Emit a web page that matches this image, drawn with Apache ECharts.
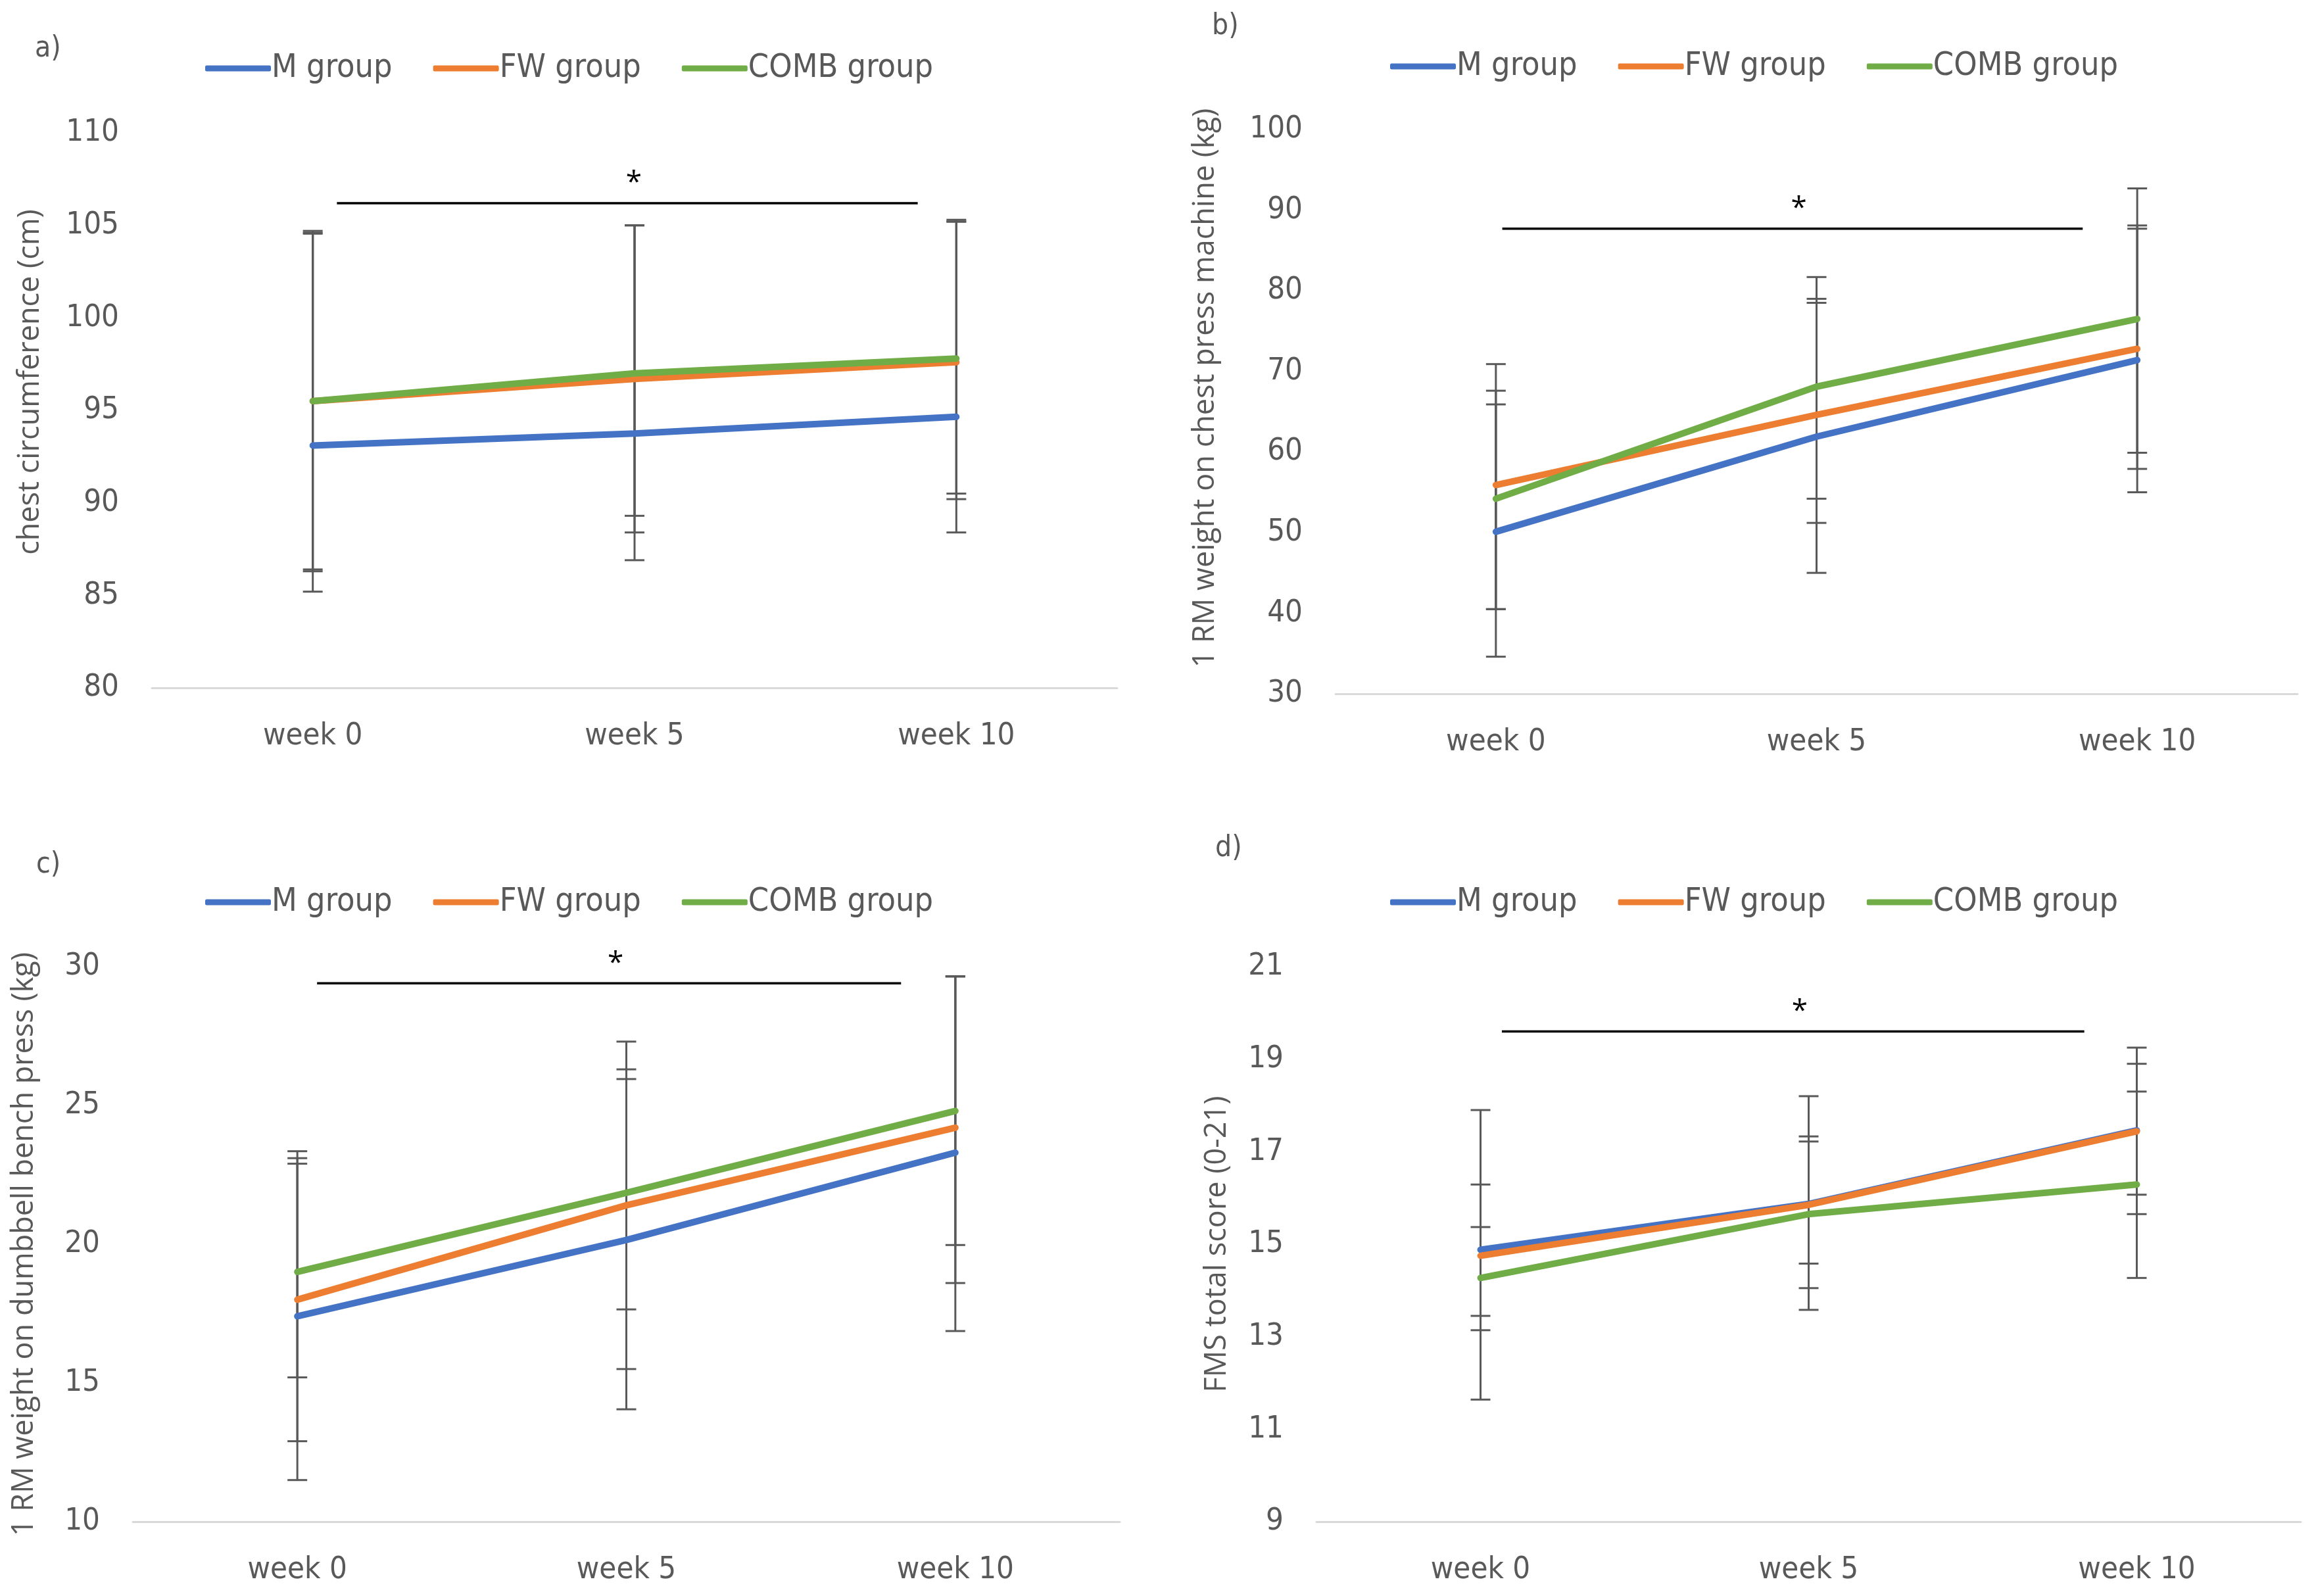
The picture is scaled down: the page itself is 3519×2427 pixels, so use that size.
<!DOCTYPE html>
<html>
<head>
<meta charset="utf-8">
<script src="https://cdn.jsdelivr.net/npm/echarts@6/dist/echarts.min.js"></script>
<style>
html,body{margin:0;padding:0;background:#fff;}
#chart{width:3519px;height:2427px;}
</style>
</head>
<body>
<div id="chart"></div>
<script>
// ---------- data ----------
const categories = ['week 0', 'week 5', 'week 10'];
const groups = ['M group', 'FW group', 'COMB group'];
const panelLabels = ['a)', 'b)', 'c)', 'd)'];
const yNames = [
  'chest circumference (cm)',
  '1 RM weight on chest press machine (kg)',
  '1 RM weight on dumbbell bench press (kg)',
  'FMS total score (0-21)'
];

// panel a: chest circumference
const chestMeanM = [93.1, 93.75, 94.65];
const chestMeanFW = [95.5, 96.7, 97.6];
const chestMeanCOMB = [95.5, 97.0, 97.8];
const chestLowM = [85.2, 86.9, 88.4];
const chestHighM = [104.6, 105.0, 105.2];
const chestLowFW = [86.3, 88.4, 90.2];
const chestHighFW = [104.55, 105.0, 105.2];
const chestLowCOMB = [86.4, 89.3, 90.5];
const chestHighCOMB = [104.7, 105.0, 105.3];
const chestTicks = [80, 85, 90, 95, 100, 105, 110];

// panel b: chest press machine 1RM
const machineMeanM = [50.1, 61.9, 71.4];
const machineMeanFW = [55.9, 64.6, 72.8];
const machineMeanCOMB = [54.2, 68.1, 76.5];
const machineLowM = [34.6, 45.0, 55.0];
const machineHighM = [65.9, 79.0, 88.1];
const machineLowFW = [40.5, 51.2, 57.9];
const machineHighFW = [70.9, 78.5, 87.7];
const machineLowCOMB = [40.5, 54.2, 59.9];
const machineHighCOMB = [67.6, 81.7, 92.7];
const machineTicks = [30, 40, 50, 60, 70, 80, 90, 100];

// panel c: dumbbell bench press 1RM
const dumbbellMeanM = [17.4, 20.15, 23.3];
const dumbbellMeanFW = [18.0, 21.4, 24.2];
const dumbbellMeanCOMB = [19.0, 21.85, 24.8];
const dumbbellLowM = [11.5, 14.05, 16.87];
const dumbbellHighM = [23.35, 26.3, 29.65];
const dumbbellLowFW = [12.9, 15.5, 18.6];
const dumbbellHighFW = [23.1, 27.3, 29.65];
const dumbbellLowCOMB = [15.2, 17.65, 19.97];
const dumbbellHighCOMB = [22.9, 25.95, 29.65];
const dumbbellTicks = [10, 15, 20, 25, 30];

// panel d: FMS total score
const fmsMeanM = [14.88, 15.87, 17.46];
const fmsMeanFW = [14.75, 15.85, 17.44];
const fmsMeanCOMB = [14.27, 15.65, 16.29];
const fmsLowM = [13.45, 13.58, 15.65];
const fmsHighM = [16.29, 18.2, 19.25];
const fmsLowFW = [11.64, 14.58, 16.07];
const fmsHighFW = [17.9, 17.22, 18.9];
const fmsLowCOMB = [13.14, 14.05, 14.27];
const fmsHighCOMB = [15.37, 17.33, 18.3];
const fmsTicks = [9, 11, 13, 15, 17, 19, 21];

// significance bar level (week 0 -> week 10) per panel
const sigLevels = [106.2, 87.7, 29.4, 19.6];

// ---------- assembly ----------
const panels = [
  { means: [chestMeanM, chestMeanFW, chestMeanCOMB], lows: [chestLowM, chestLowFW, chestLowCOMB], highs: [chestHighM, chestHighFW, chestHighCOMB], ticks: chestTicks },
  { means: [machineMeanM, machineMeanFW, machineMeanCOMB], lows: [machineLowM, machineLowFW, machineLowCOMB], highs: [machineHighM, machineHighFW, machineHighCOMB], ticks: machineTicks },
  { means: [dumbbellMeanM, dumbbellMeanFW, dumbbellMeanCOMB], lows: [dumbbellLowM, dumbbellLowFW, dumbbellLowCOMB], highs: [dumbbellHighM, dumbbellHighFW, dumbbellHighCOMB], ticks: dumbbellTicks },
  { means: [fmsMeanM, fmsMeanFW, fmsMeanCOMB], lows: [fmsLowM, fmsLowFW, fmsLowCOMB], highs: [fmsHighM, fmsHighFW, fmsHighCOMB], ticks: fmsTicks }
];

// layout (pixels)
const grids = [
  { left: 231, top: 202, width: 1468, height: 844 },
  { left: 2031, top: 197, width: 1463, height: 858 },
  { left: 202, top: 1470, width: 1501, height: 844 },
  { left: 2002, top: 1470, width: 1497, height: 844 }
];
const nameGaps = [162, 175, 142, 128];
const namePads = [[0, 0, 0, 86], [0, 0, 0, 72], [0, 0, 0, 0], [0, 0, 0, 0]];
const sigStartOff = [0.075, 0.02, 0.06, 0.065];
const sigEndOff = [0.12, 0.17, 0.165, 0.16];
const legendPos = [{ left: 307, top: 71 }, { left: 2109, top: 68 }, { left: 307, top: 1339 }, { left: 2109, top: 1339 }];
const titlePos = [{ left: 48, top: 48 }, { left: 1838, top: 14 }, { left: 50, top: 1289 }, { left: 1843, top: 1264 }];

const colors = ['#4472C4', '#ED7D31', '#70AD47'];
const textColor = '#595959';
const numFont = "'Liberation Sans Narrow', 'DejaVu Sans Condensed', 'Liberation Sans', sans-serif";
const nameFont = "'Open Sans', 'DejaVu Sans', sans-serif";

const option = {
  backgroundColor: '#ffffff',
  animation: false,
  color: colors,
  title: panelLabels.map((t, i) => ({
    text: t, left: titlePos[i].left, top: titlePos[i].top,
    textStyle: { fontSize: 44, fontWeight: 'normal', color: textColor, fontFamily: numFont }
  })),
  legend: legendPos.map(p => ({
    data: groups, left: p.left, top: p.top, orient: 'horizontal',
    icon: 'roundRect', itemWidth: 100, itemHeight: 9, itemGap: 62,
    textStyle: { fontSize: 50, color: textColor, fontFamily: numFont, lineHeight: 56, padding: [0, 0, 0, -4] }
  })),
  grid: grids.map(g => Object.assign({ containLabel: false }, g)),
  xAxis: grids.map((g, i) => ({
    type: 'category', gridIndex: i, data: categories, boundaryGap: true,
    axisLine: { show: true, lineStyle: { color: '#D9D9D9', width: 3 } },
    axisTick: { show: false },
    axisLabel: { fontSize: 47, color: textColor, fontFamily: numFont, margin: 50 },
    splitLine: { show: false }
  })),
  yAxis: panels.map((p, i) => ({
    type: 'value', gridIndex: i,
    min: p.ticks[0], max: p.ticks[p.ticks.length - 1],
    interval: p.ticks[1] - p.ticks[0],
    axisLine: { show: false }, axisTick: { show: false }, splitLine: { show: false },
    axisLabel: { fontSize: 47, color: textColor, fontFamily: numFont, margin: 50 },
    name: yNames[i], nameLocation: 'middle', nameGap: nameGaps[i], nameRotate: 90,
    nameTextStyle: { fontSize: 45, color: textColor, fontFamily: nameFont, padding: namePads[i] }
  })),
  series: []
};

function errorRender(params, api) {
  const idx = api.value(0);
  const lo = api.coord([idx, api.value(1)]);
  const hi = api.coord([idx, api.value(2)]);
  const cw = 15;
  const st = { stroke: '#595959', lineWidth: 3 };
  return {
    type: 'group',
    children: [
      { type: 'line', shape: { x1: lo[0], y1: lo[1], x2: hi[0], y2: hi[1] }, style: st },
      { type: 'line', shape: { x1: lo[0] - cw, y1: lo[1], x2: lo[0] + cw, y2: lo[1] }, style: st },
      { type: 'line', shape: { x1: hi[0] - cw, y1: hi[1], x2: hi[0] + cw, y2: hi[1] }, style: st }
    ]
  };
}

function makeSigRender(pi) {
  return function (params, api) {
    const lvl = api.value(1);
    const p0 = api.coord([0, lvl]);
    const p2 = api.coord([categories.length - 1, lvl]);
    const band = api.size([1, 0])[0];
    const x1 = p0[0] + sigStartOff[pi] * band;
    const x2 = p2[0] - sigEndOff[pi] * band;
    const y = p0[1];
    return {
      type: 'group',
      children: [
        { type: 'line', shape: { x1: x1, y1: y, x2: x2, y2: y }, style: { stroke: '#000000', lineWidth: 3.5 } },
        { type: 'text', x: (x1 + x2) / 2 + 0.02 * band, y: y - 30,
          style: { text: '*', fontSize: 44, fill: '#000000', fontFamily: nameFont, align: 'center', verticalAlign: 'middle' } }
      ]
    };
  };
}

panels.forEach((p, pi) => {
  groups.forEach((g, gi) => {
    option.series.push({
      name: g + ' SD', type: 'custom', xAxisIndex: pi, yAxisIndex: pi,
      renderItem: errorRender, clip: false, z: 1, silent: true,
      encode: { x: 0, y: [1, 2] },
      data: categories.map((c, ci) => [ci, p.lows[gi][ci], p.highs[gi][ci]])
    });
  });
  groups.forEach((g, gi) => {
    option.series.push({
      name: g, type: 'line', xAxisIndex: pi, yAxisIndex: pi,
      data: p.means[gi], symbol: 'none', z: 3,
      lineStyle: { width: 10, color: colors[gi], cap: 'round' },
      itemStyle: { color: colors[gi] }
    });
  });
  option.series.push({
    name: 'sig' + pi, type: 'custom', xAxisIndex: pi, yAxisIndex: pi,
    renderItem: makeSigRender(pi), clip: false, z: 4, silent: true,
    encode: { x: 0, y: 1 },
    data: [[0, sigLevels[pi]]]
  });
});

const chart = echarts.init(document.getElementById('chart'), null, { renderer: 'canvas' });
chart.setOption(option);
</script>
</body>
</html>
